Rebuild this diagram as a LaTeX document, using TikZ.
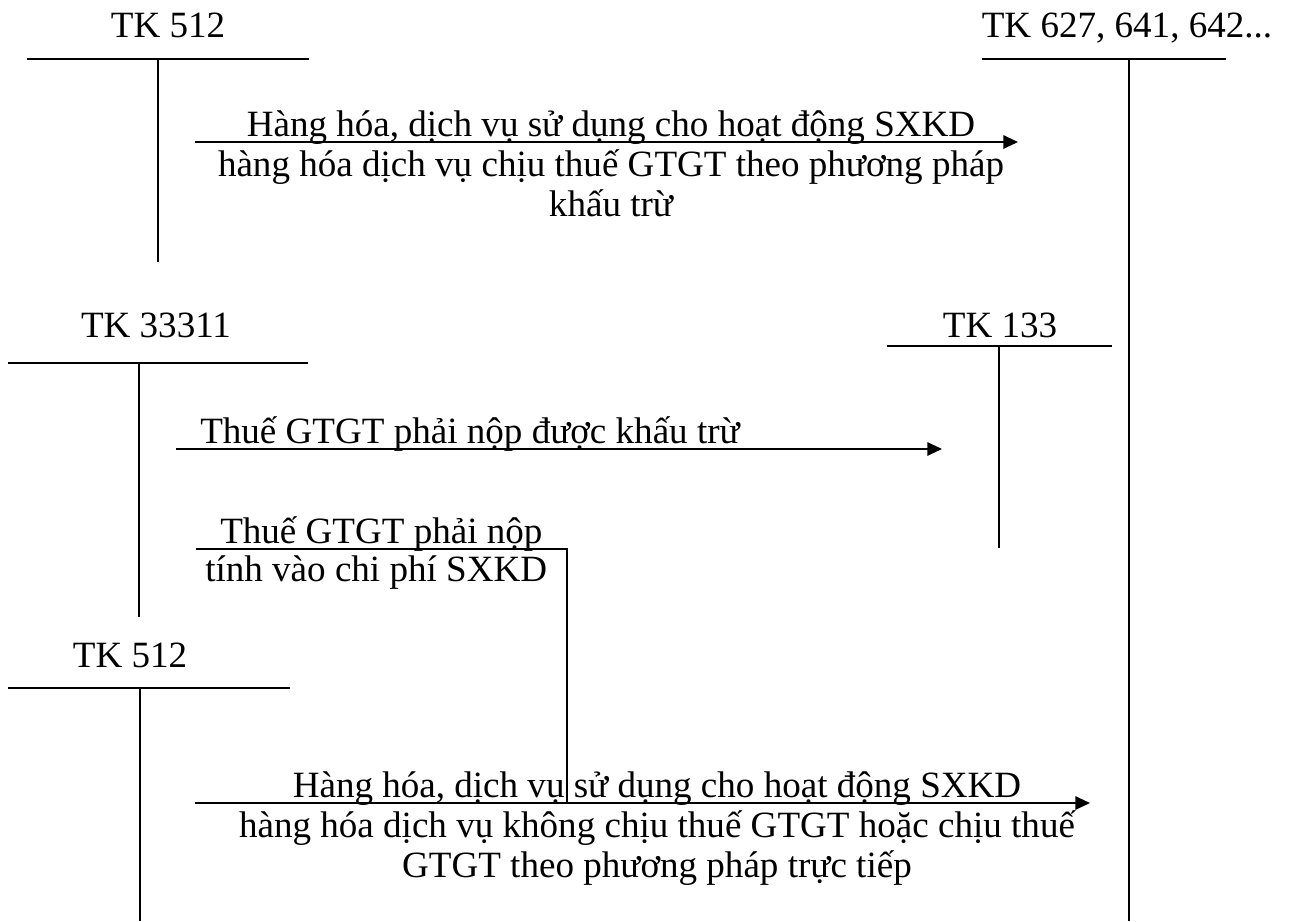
\documentclass[tikz,border=0pt]{standalone}
\usepackage{fontspec}
\setmainfont{Liberation Serif}
\usetikzlibrary{arrows.meta}
\newcommand{\tkfont}{\fontsize{27.8}{30}\selectfont}
\begin{document}
\begin{tikzpicture}[x=0.75pt, y=-0.75pt,
        account/.style={font=\tkfont, anchor=base, inner sep=0pt},
        tline/.style={line width=1.5pt},
        flow/.style={line width=1.5pt, -{Triangle[length=11pt, width=10pt]}},
        note/.style={font=\tkfont, align=center, anchor=base, inner sep=0pt}
    ]
    \useasboundingbox (0,0) rectangle (1291,921);

    % TK 512 (tren)
    \node[account] (tk512a) at (168,37) {TK 512};
    \coordinate (tk512aL) at (27,59);
    \coordinate (tk512aR) at (309,59);
    \coordinate (tk512aT) at (158,59);
    \coordinate (tk512aB) at (158,262);
    \draw[tline] (tk512aL) -- (tk512aR);
    \draw[tline] (tk512aT) -- (tk512aB);

    % TK 627, 641, 642...
    \node[account] (tk627) at (1127,37) {TK 627, 641, 642...};
    \coordinate (tk627L) at (982,59);
    \coordinate (tk627R) at (1226,59);
    \coordinate (tk627T) at (1129,59);
    \coordinate (tk627B) at (1129,921);
    \draw[tline] (tk627L) -- (tk627R);
    \draw[tline] (tk627T) -- (tk627B);

    % TK 33311
    \node[account] (tk333) at (156,337) {TK 33311};
    \coordinate (tk333L) at (8,363);
    \coordinate (tk333R) at (308,363);
    \coordinate (tk333T) at (139,363);
    \coordinate (tk333B) at (139,617);
    \draw[tline] (tk333L) -- (tk333R);
    \draw[tline] (tk333T) -- (tk333B);

    % TK 133
    \node[account] (tk133) at (1000,337) {TK 133};
    \coordinate (tk133L) at (887,346);
    \coordinate (tk133R) at (1112,346);
    \coordinate (tk133T) at (999,346);
    \coordinate (tk133B) at (999,548);
    \draw[tline] (tk133L) -- (tk133R);
    \draw[tline] (tk133T) -- (tk133B);

    % TK 512 (duoi)
    \node[account] (tk512b) at (130,667) {TK 512};
    \coordinate (tk512bL) at (8,688);
    \coordinate (tk512bR) at (290,688);
    \coordinate (tk512bT) at (140,688);
    \coordinate (tk512bB) at (140,921);
    \draw[tline] (tk512bL) -- (tk512bR);
    \draw[tline] (tk512bT) -- (tk512bB);

    % Mui ten 1
    \coordinate (f1s) at (195,142);
    \coordinate (f1e) at (1018,142);
    \draw[flow] (f1s) -- (f1e);
    \node[note] (n1) at (611,216) {Hàng hóa, dịch vụ sử dụng cho hoạt động SXKD\\
        hàng hóa dịch vụ chịu thuế GTGT theo phương pháp\\ khấu trừ};

    % Mui ten 2
    \coordinate (f2s) at (176,449);
    \coordinate (f2e) at (942,449);
    \draw[flow] (f2s) -- (f2e);
    \node[account, anchor=base west] (n2) at (200,443) {Thuế GTGT phải nộp được khấu trừ};

    % Duong gap khuc
    \coordinate (k1) at (196,549);
    \coordinate (k2) at (567,549);
    \coordinate (k3) at (567,803);
    \draw[tline] (k1) -- (k2) -- (k3);
    \node[account, anchor=base west] (n3) at (220,543) {Thuế GTGT phải nộp};
    \node[account, anchor=base west] (n4) at (205,581) {tính vào chi phí SXKD};

    % Mui ten 3
    \coordinate (f3s) at (195,803);
    \coordinate (f3e) at (1090,803);
    \draw[flow] (f3s) -- (f3e);
    \node[note] (n5) at (657,877) {Hàng hóa, dịch vụ sử dụng cho hoạt động SXKD\\
        hàng hóa dịch vụ không chịu thuế GTGT hoặc chịu thuế\\ GTGT theo phương pháp trực tiếp};
\end{tikzpicture}
\end{document}
